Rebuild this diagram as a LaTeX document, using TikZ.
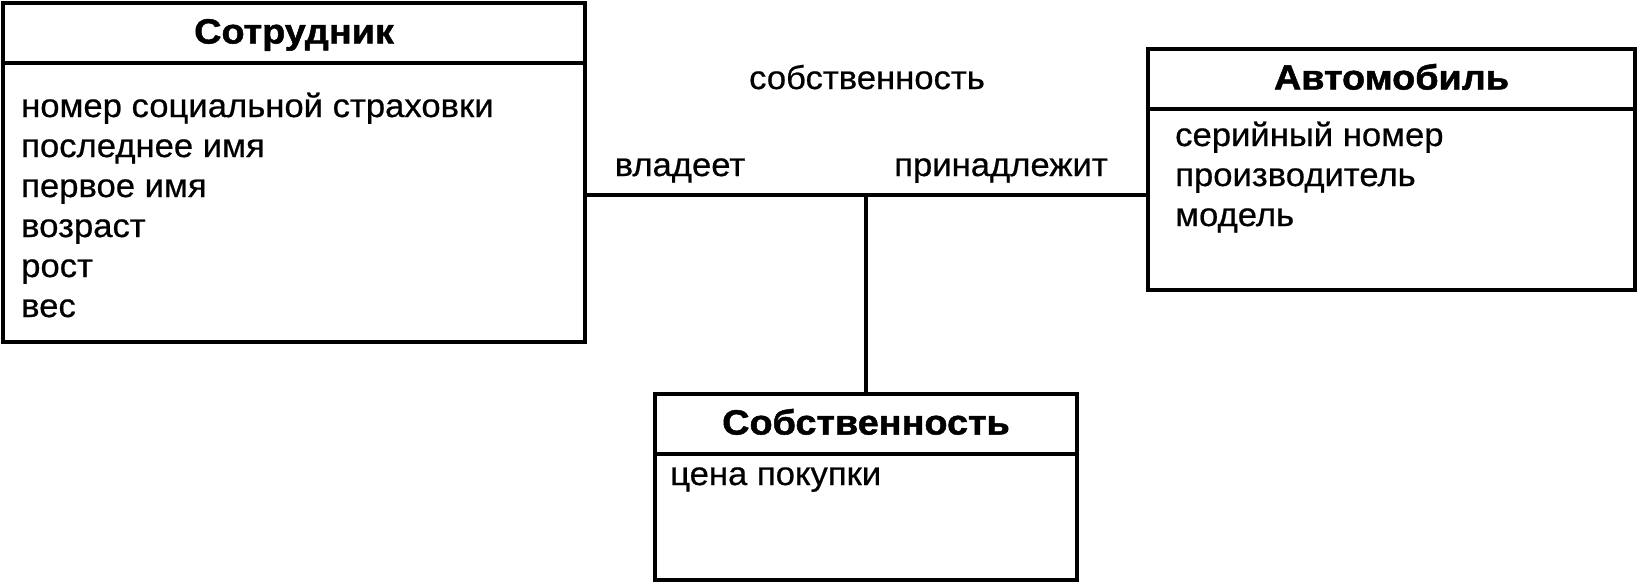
\documentclass[tikz,border=0pt]{standalone}
\usepackage{fontspec}
\setmainfont{Liberation Sans}[FakeStretch=1.05,FakeBold=0.6]
\newfontfamily\headfont{Liberation Sans}[FakeStretch=1.08,FakeBold=1.4]
\usetikzlibrary{positioning,calc}

\begin{document}
\begin{tikzpicture}[
  x=1pt, y=-1pt,
  every node/.style={font=\fontsize{33}{40}\selectfont},
  classhead/.style={draw,line width=4pt,outer sep=0pt,anchor=north west,font=\fontsize{35}{40}\selectfont\headfont\bfseries,text height=21pt,text depth=0pt},
  classbody/.style={draw,line width=4pt,outer sep=0pt},
  attrs/.style={align=left,inner sep=0pt,anchor=base west},
  rolelabel/.style={inner sep=0pt,anchor=base},
  assoc/.style={line width=4pt}
]
\useasboundingbox (0,0) rectangle (1641,584);

% Класс Сотрудник (опорная точка -- базовая линия последней строки)
\node[classhead,minimum width=582pt,minimum height=60pt] (emplhead) at (3,3) {Сотрудник};
\node[classbody,below=0pt of emplhead,minimum width=582pt,minimum height=279pt] (emplbody) {};
\node[attrs] (emplattrs) at ($(emplbody.north west)+(18,254)$) {номер социальной страховки\\последнее имя\\первое имя\\возраст\\рост\\вес};

% Класс Автомобиль
\node[classhead,minimum width=487pt,minimum height=60pt] (carhead) at (1148,49) {Автомобиль};
\node[classbody,below=0pt of carhead,minimum width=487pt,minimum height=181pt] (carbody) {};
\node[attrs] (carattrs) at ($(carbody.north west)+(27,117)$) {серийный номер\\производитель\\модель};

% Класс-ассоциация Собственность
\node[classhead,minimum width=422pt,minimum height=60pt] (ownhead) at (655,394) {Собственность};
\node[classbody,below=0pt of ownhead,minimum width=422pt,minimum height=126pt] (ownbody) {};
\node[attrs] (ownattrs) at ($(ownbody.north west)+(15,31)$) {цена покупки};

% Ассоциация
\coordinate (hub) at (ownhead.north |- 0,195);
\draw[assoc] (hub -| emplbody.east) -- (hub -| carbody.west);
\draw[assoc] (hub) -- (ownhead.north);

% Подписи
\node[rolelabel] (assocname) at (867,89) {собственность};
\node[rolelabel] (ownsrole) at (680,176) {владеет};
\node[rolelabel] (belongsrole) at (1001,176) {принадлежит};
\end{tikzpicture}
\end{document}
